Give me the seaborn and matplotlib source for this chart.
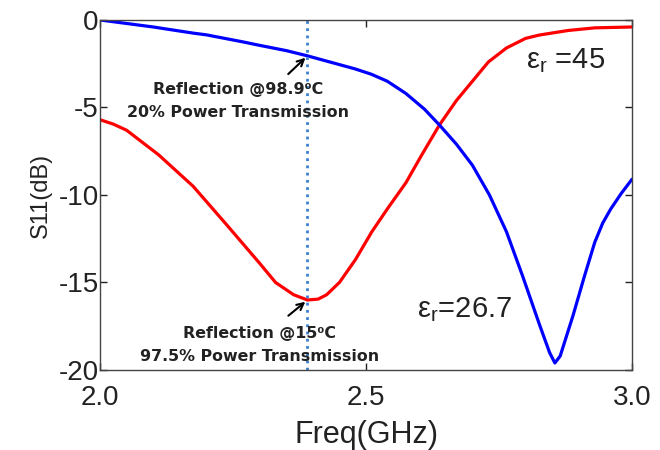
import matplotlib
matplotlib.use("Agg")
import matplotlib.pyplot as plt
import seaborn as sns
import pandas as pd

# S11 of the resonator at two permittivities (GHz, dB)
freq_hot = [2.00, 2.05, 2.10, 2.175, 2.20, 2.27, 2.30, 2.35, 2.39, 2.45, 2.48,
            2.51, 2.54, 2.575, 2.61, 2.638, 2.67, 2.70, 2.732, 2.764, 2.794,
            2.826, 2.845, 2.855, 2.865, 2.889, 2.91, 2.93, 2.945, 2.96, 2.98,
            3.00]
s11_hot = [0.0, -0.2, -0.4, -0.75, -0.85, -1.26, -1.45, -1.75, -2.05, -2.55,
           -2.8, -3.1, -3.5, -4.2, -5.1, -6.0, -7.1, -8.3, -10.0, -12.1,
           -14.6, -17.4, -19.0, -19.6, -19.2, -16.9, -14.7, -12.7, -11.6,
           -10.8, -9.9, -9.1]

freq_cold = [2.00, 2.025, 2.05, 2.11, 2.175, 2.238, 2.30, 2.33, 2.364, 2.39,
             2.41, 2.426, 2.45, 2.48, 2.511, 2.54, 2.575, 2.605, 2.638, 2.67,
             2.70, 2.73, 2.764, 2.80, 2.826, 2.88, 2.93, 3.00]
s11_cold = [-5.7, -5.95, -6.3, -7.7, -9.5, -11.7, -13.9, -15.0, -15.7, -16.0,
            -15.95, -15.7, -15.0, -13.7, -12.1, -10.8, -9.3, -7.7, -6.0, -4.6,
            -3.5, -2.4, -1.6, -1.05, -0.86, -0.6, -0.45, -0.4]

marker_freq = 2.39
hot_point = (2.39, -2.05)
cold_point = (2.39, -16.0)

x_ticks = [2.0, 2.5, 3.0]
x_tick_labels = ["2.0", "2.5", "3.0"]
y_ticks = [0, -5, -10, -15, -20]
y_tick_labels = ["0", "-5", "-10", "-15", "-20"]

sns.set_theme(style="ticks")
plt.rcParams["font.family"] = ["Liberation Sans", "DejaVu Sans"]
plt.rcParams["mathtext.fontset"] = "custom"
plt.rcParams["mathtext.rm"] = "Liberation Sans"

fig = plt.figure(figsize=(6.6, 4.5), dpi=100)
ax = fig.add_axes([0.1515, 0.1778, 0.8061, 0.7778])

df_hot = pd.DataFrame({"freq": freq_hot, "s11": s11_hot})
df_cold = pd.DataFrame({"freq": freq_cold, "s11": s11_cold})

sns.lineplot(data=df_cold, x="freq", y="s11", color="#ff0000", lw=2.3, ax=ax)
sns.lineplot(data=df_hot, x="freq", y="s11", color="#0000ff", lw=2.3, ax=ax)
ax.axvline(marker_freq, color="#3a7fd0", lw=2, ls=(0, (1, 1.6)))

ax.set_xlim(2.0, 3.0)
ax.set_ylim(-20, 0)
ax.set_xticks(x_ticks)
ax.set_xticklabels(x_tick_labels)
ax.set_yticks(y_ticks)
ax.set_yticklabels(y_tick_labels)
ax.tick_params(direction="in", top=True, right=True, length=5, width=1,
               labelsize=20, colors="#222222")
ax.tick_params(axis="y", pad=1)
ax.tick_params(axis="x", pad=11)
for s in ax.spines.values():
    s.set_color("#444444")
    s.set_linewidth(1)

ax.set_xlabel("Freq(GHz)", fontsize=22, color="#222222", labelpad=6)
ax.set_ylabel("S11(dB)", fontsize=17, color="#222222", labelpad=5)

bold = dict(fontsize=11.4, fontweight="bold", family="DejaVu Sans",
            color="#222222", ha="center", va="center")
ax.annotate("", xy=hot_point, xytext=(2.35, -3.2),
            arrowprops=dict(arrowstyle="->", color="black", lw=1.5))
ax.text(2.26, -4.0, "Reflection @98.9\u2070C", **bold)
ax.text(2.26, -5.3, "20% Power Transmission", **bold)

ax.annotate("", xy=cold_point, xytext=(2.35, -17.0),
            arrowprops=dict(arrowstyle="->", color="black", lw=1.5))
ax.text(2.30, -17.9, "Reflection @15\u2070C", **bold)
ax.text(2.30, -19.25, "97.5% Power Transmission", **bold)

ax.text(2.80, -2.75, "\u03b5$_\\mathregular{r}$ =45", fontsize=21,
        color="#222222", ha="left", va="baseline")
ax.text(2.595, -17.0, "\u03b5$_\\mathregular{r}$=26.7", fontsize=21,
        color="#222222", ha="left", va="baseline")

fig.savefig("out.png", dpi=100, facecolor="white")
